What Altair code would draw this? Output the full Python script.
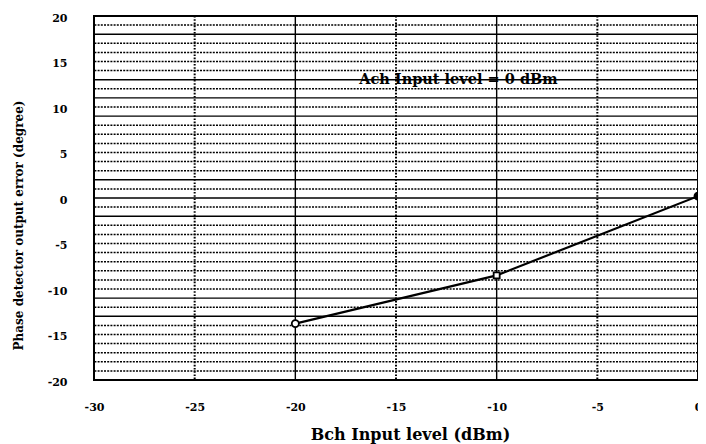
import altair as alt
import pandas as pd

# ---- data ----
x_vals = [-20, -10, 0]
y_vals = [-13.8, -8.5, 0.2]
marker_shapes = ["circle", "square", "circle"]
marker_fills = ["white", "white", "black"]
marker_sizes = [50, 36, 50]

x_ticks = [-30, -25, -20, -15, -10, -5, 0]
y_ticks = [-20, -15, -10, -5, 0, 5, 10, 15, 20]

v_solid = [-20, -10]
v_dotted = [-25, -15, -5]
h_solid = [18, 13, 11, 9, 2, 0, -2, -11, -13]
h_dotted = [19, 17, 16, 15, 14, 12, 10, 8, 7, 6, 5, 4, 3, 1, -1, -3, -4, -5,
            -6, -7, -8, -9, -10, -12, -14, -15, -16, -17, -18, -19]

annotation_text = ["Ach Input level = 0 dBm"]
annotation_x = [-11.9]
annotation_y = [13]

x_title = "Bch Input level (dBm)"
y_title = "Phase detector output error (degree)"

# ---- tables ----
pts = pd.DataFrame({"x": x_vals, "y": y_vals, "shape": marker_shapes,
                    "fill": marker_fills, "size": marker_sizes})
vs = pd.DataFrame({"v": v_solid})
vd = pd.DataFrame({"v": v_dotted})
hs = pd.DataFrame({"v": h_solid})
hd = pd.DataFrame({"v": h_dotted})
ann = pd.DataFrame({"x": annotation_x, "y": annotation_y, "t": annotation_text})

FONT = "DejaVu Serif"
W, H = 604, 364
xscale = alt.Scale(domain=[-30, 0], nice=False, zero=False)
yscale = alt.Scale(domain=[-20, 20], nice=False, zero=False)

x_axis = alt.Axis(values=x_ticks, title=x_title, grid=False, domain=False,
                  ticks=False, tickSize=0, labelPadding=21, labelFlush=False,
                  labelOverlap=False, labelExpr="toString(datum.value)",
                  labelFont=FONT, labelFontWeight="bold", labelFontSize=11,
                  labelColor="black", titleFont=FONT, titleFontWeight="bold",
                  titleFontSize=16, titleColor="black", titleX=316, titleY=54,
                  titleAlign="center", titleBaseline="middle")
y_axis = alt.Axis(values=y_ticks, title=y_title, grid=False, domain=False,
                  ticks=False, tickSize=0, labelPadding=27, labelFlush=False,
                  labelOverlap=False, labelExpr="toString(datum.value)",
                  labelOffset=2,
                  labelFont=FONT, labelFontWeight="bold", labelFontSize=11,
                  labelColor="black", titleFont=FONT, titleFontWeight="bold",
                  titleFontSize=12, titleColor="black", titleAngle=270,
                  titleX=-76, titleY=209, titleAlign="center",
                  titleBaseline="middle")

X = lambda f: alt.X(f, scale=xscale, axis=x_axis)
Y = lambda f: alt.Y(f, scale=yscale, axis=y_axis)

h_dot = alt.Chart(hd).mark_rule(color="black", strokeWidth=1.5,
                                strokeDash=[2, 1.2]).encode(y=Y("v:Q"))
h_sol = alt.Chart(hs).mark_rule(color="black", strokeWidth=1.4).encode(
    y=Y("v:Q"))
v_dot = alt.Chart(vd).mark_rule(color="black", strokeWidth=2,
                                strokeDash=[1.6, 1.6]).encode(x=X("v:Q"))
v_sol = alt.Chart(vs).mark_rule(color="black", strokeWidth=1.4).encode(
    x=X("v:Q"))

line = alt.Chart(pts).mark_line(color="black", strokeWidth=2.2).encode(
    x=X("x:Q"), y=Y("y:Q"))

points = alt.Chart(pts).mark_point(filled=True, stroke="black",
                                   strokeWidth=1.8, opacity=1).encode(
    x=X("x:Q"), y=Y("y:Q"),
    shape=alt.Shape("shape:N", scale=None),
    fill=alt.Fill("fill:N", scale=None),
    size=alt.Size("size:Q", scale=None))

text = alt.Chart(ann).mark_text(font=FONT, fontWeight="bold", fontSize=14.5,
                                align="center", baseline="middle",
                                color="black").encode(
    x=X("x:Q"), y=Y("y:Q"), text="t:N")

chart = alt.layer(h_dot, h_sol, v_dot, v_sol, line, points, text).properties(
    width=W, height=H,
    autosize=alt.AutoSizeParams(type="none"),
    padding={"left": 86, "top": 8, "right": 0, "bottom": 64},
    background="white",
).configure_view(stroke="black", strokeWidth=2)

chart.save("out.html", embed_options={"renderer": "svg", "actions": False})
